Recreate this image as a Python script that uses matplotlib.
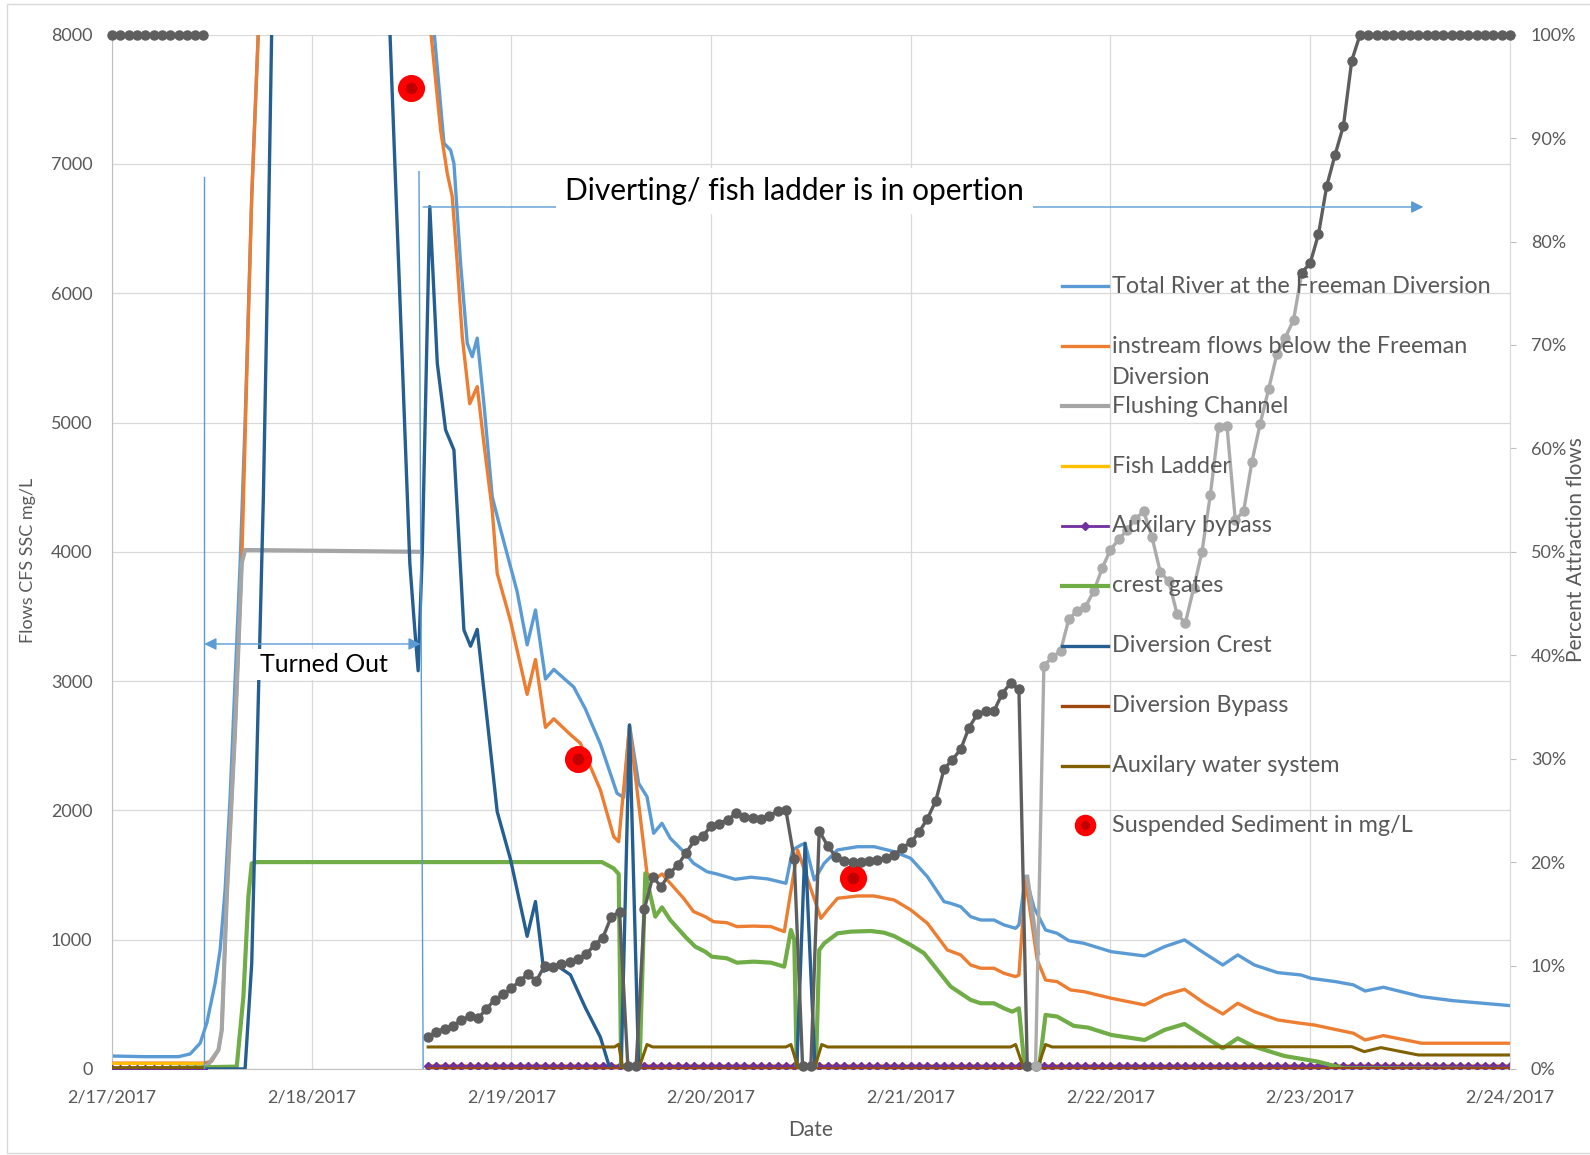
import numpy as np
import matplotlib.pyplot as plt
from matplotlib.lines import Line2D
from matplotlib.patches import Rectangle

plt.rcParams['font.family'] = ['Lato', 'DejaVu Sans']

nan = np.nan

# x values are hours since 2/17/2017 00:00
date_labels = ['2/17/2017', '2/18/2017', '2/19/2017', '2/20/2017',
               '2/21/2017', '2/22/2017', '2/23/2017', '2/24/2017']
early_hours = list(range(0, 12))
late_hours = list(range(38, 169))

# Total River at the Freeman Diversion (cfs)
river_hours = [0, 4, 8, 9.4, 10.6, 11.4, 12.4, 13, 13.6, 14.2, 14.8, 15.4, 16, 16.8,
               17.6, 18.4, 24, 32, 38.7, 39.9, 40.7, 41.1, 41.9, 42.7, 43.3, 43.9,
               44.7, 45.7, 46.7, 48.7, 49.9, 50.9, 52.1, 53.1, 55.5, 56.9, 58.7, 60.7,
               61.5, 62.2, 63.3, 64.3, 65.1, 66.1, 67.1, 68.7, 69.9, 71.5, 72.7, 74.9,
               76.8, 78.8, 81, 81.8, 82.8, 83.3, 84.4, 85.6, 87.2, 89.6, 91.6, 94, 96,
               98, 100, 100.8, 102, 103.2, 104.4, 106, 107.2, 108.6, 109, 109.8, 110.8,
               112.2, 113.6, 115, 116.8, 120.1, 124.1, 126.5, 128.9, 131.3, 133.5,
               135.3, 137.3, 140.1, 142.9, 144.1, 147.1, 149.2, 150.6, 152.8, 157.4,
               161.2, 168]
river_cfs = [100, 95, 95, 116, 199, 355, 663, 920, 1384, 2100, 3000, 3900, 5000, 6747,
             8035, 9500, 12000, 12000, 8035, 7160, 7107, 7004, 6231, 5613, 5509, 5653,
             5148, 4426, 4174, 3691, 3280, 3550, 3016, 3090, 2954, 2784, 2514, 2132,
             2100, 2660, 2209, 2106, 1823, 1900, 1784, 1681, 1591, 1526, 1508, 1467,
             1483, 1470, 1436, 1694, 1732, 1745, 1462, 1591, 1694, 1719, 1719, 1681, 1629,
             1487, 1294, 1281, 1255, 1178, 1152, 1152, 1114, 1088, 1114, 1490, 1250,
             1075, 1049, 992, 972, 907, 874, 946, 998, 895, 804,
             882, 804, 745, 727, 701, 675, 650, 603, 632, 559,
             528, 490]

# instream flows below the Freeman Diversion (cfs)
instream_hours = [0, 11, 12, 12.8, 13.2, 13.8, 14.8, 15.6, 16.2, 16.8, 17.6, 18.4, 24, 32,
                  38.3, 39.5, 40.3, 40.9, 41.5, 42.1, 43.0, 43.9, 44.7, 45.7, 46.3, 47.9,
                  49.9, 50.9, 52.1, 53.1, 55.1, 56.3, 58.7, 60.3, 60.9, 62.2, 64.3, 65.1,
                  66.1, 67.1, 68.7, 69.9, 71.3, 72.3, 73.9, 75.1, 77.1, 79.2, 80.8, 82.4,
                  85.2, 86, 87.2, 89.6, 91.6, 94, 96, 98, 100.4, 102, 103.2, 104.4, 106,
                  107.2, 108.6, 109, 109.8, 111.2, 112.2, 113.6, 115.2, 116.8, 120.1,
                  124.1, 126.5, 128.9, 131.3, 133.5, 135.3, 137.3, 140.1, 142.9, 144.5,
                  149.2, 150.6, 152.8, 157.4, 168]
instream_cfs = [45, 45, 60, 147, 302, 1333, 2622, 3913, 5355, 6747, 8035, 9500, 12000, 12000,
                8035, 7262, 6927, 6747, 6231, 5664, 5145, 5278, 4839, 4323, 3834, 3465,
                2897, 3167, 2642, 2708, 2586, 2519, 2158, 1797, 1758, 2647, 1513, 1462,
                1508, 1436, 1320, 1217, 1178, 1139, 1131, 1101, 1105, 1101, 1062, 1694,
                1165, 1230, 1320, 1338, 1338, 1307, 1230, 1127, 920, 882, 804, 779, 779,
                740, 714, 727, 1462, 843, 688, 675, 611, 598, 547,
                495, 572, 616, 508, 425, 508, 443, 379, 353, 340,
                276, 224, 258, 199, 199]

# Flushing Channel (cfs)
flushing_hours = [11, 11.4, 12.8, 13.2, 13.8, 14.8, 15.6, 16.0, 37.1, nan, 110.0, 111.3]
flushing_cfs = [0, 18, 147, 302, 1333, 2622, 3913, 4014, 4000, nan, 1487, 895]

# Fish Ladder, Auxilary bypass, Diversion Bypass (cfs), hourly
fish_ladder_cfs = [45] * 12 + [30] * 131
aux_bypass_cfs = [0] * 12 + [25] * 131
div_bypass_cfs = [5] * 12 + [10] * 131

# crest gates (cfs)
crest_hours = [0, 15, 15.8, 16.4, 16.8, 17.4, 58.9, 60.3, 60.9, 61.2, 63.4, 64.1, 65.3,
               66.1, 67.1, 68.9, 70.1, 71.3, 72.1, 73.9, 75.1, 77.1, 79.2, 80.8, 81.6, 82,
               82.3, 84.6, 85, 85.6, 87.2, 88.8, 91.2, 92.8, 94, 96, 97.6, 99.2, 100.8,
               103.2, 104.4, 106, 107.2, 108.2, 109, 109.7, 111.4, 112.2, 113.6, 115.6,
               117.3, 120.1, 124.1, 126.5, 128.9, 131.3, 133.5, 135.3, 137.3, 140.9,
               144.9, 148, 168]
crest_cfs = [0, 18, 560, 1333, 1590, 1600, 1600, 1551, 1508, 0, 0, 1513, 1178,
             1250, 1152, 1023, 946, 907, 868, 856, 822, 830, 822, 791, 1075, 998,
             0, 0, 920, 972, 1049, 1062, 1067, 1054, 1028, 959, 895, 766, 637,
             534, 508, 508, 469, 443, 469, 0, 0, 418, 405, 333,
             320, 263, 224, 302, 348, 250, 160, 237, 172, 100,
             57, 5, 0]

# Diversion Crest (cfs)
div_crest_hours = [0, 16, 16.8, 17.4, 18.2, 18.8, 19.2, 20, 32, 33.4, 34.6, 35.8, 36.4,
                   36.8, 37.3, 38.2, 39.1, 40.1, 41.1, 42.3, 43.1, 43.9, 45.1, 46.3, 47.9,
                   49.9, 50.9, 51.9, 53.5, 55.1, 56.9, 58.7, 59.7, 60, 61.2, 62.2, 63.3,
                   82.3, 83.3, 84.5, 168]
div_crest_cfs = [0, 0, 817, 2364, 4426, 6489, 8035, 10000, 10000, 8035, 5973, 3911, 3395,
                 3080, 4000, 6669, 5458, 4942, 4788, 3395, 3270, 3400, 2699, 1990, 1621,
                 1026, 1295, 756, 799, 728, 473, 246, 33, 0, 0, 2660, 0,
                 0, 1745, 0, 0]

# Auxilary water system (cfs)
aux_water_hours = [0, 11, nan, 38, 60.4, 60.9, 61.4, 63.3, 64.3, 65, 81, 81.6, 82.5, 84.4,
                   85.3, 86, 108, 108.6, 109.6, 111.2, 112.2, 113, 149, 150.5, 152.5, 157,
                   168]
aux_water_cfs = [10, 10, nan, 170, 170, 191, 0, 0, 189, 170, 170, 189, 0, 0,
                 189, 170, 170, 189, 0, 0, 189, 170, 172, 134, 165, 108,
                 108]

# Suspended Sediment in mg/L
sed_hours = [36, 56, 89]
sed_mg = [7590, 2400, 1475]

# Percent attraction flows (right axis), hourly
pct_a_hours = list(range(0, 12))
pct_a = [100] * 12
pct_b_hours = list(range(38, 112))
pct_b = [3.1, 3.6, 3.9, 4.2, 4.7, 5.1, 4.9, 5.8, 6.7, 7.2,
         7.8, 8.5, 9.2, 8.5, 10.0, 9.9, 10.1, 10.3, 10.6, 11.1,
         12.0, 12.7, 14.7, 15.2, 0.3, 0.3, 15.5, 18.6, 17.6, 18.9,
         19.7, 20.9, 22.1, 22.5, 23.5, 23.7, 24.1, 24.7, 24.4, 24.3,
         24.2, 24.5, 24.9, 25.0, 20.3, 0.3, 0.3, 23.0, 21.6, 20.5,
         20.1, 20.0, 20.0, 20.1, 20.2, 20.4, 20.7, 21.4, 21.9, 22.9,
         24.2, 25.9, 29.0, 29.9, 30.9, 33.0, 34.3, 34.6, 34.6, 36.3,
         37.3, 36.7, 0.3, 0.3]
pct_c_hours = list(range(111, 144))
pct_c = [0.3, 39.0, 39.8, 40.4, 43.5, 44.3, 44.7, 46.2, 48.4, 50.2,
         51.2, 52.1, 53.2, 53.9, 51.4, 48.0, 47.2, 44.0, 43.1, 46.5,
         50.0, 55.5, 62.1, 62.2, 53.1, 53.9, 58.7, 62.4, 65.7, 69.1,
         70.7, 72.4, 77.0]
pct_d_hours = list(range(143, 169))
pct_d = [77.0, 77.9, 80.7, 85.4, 88.4, 91.2, 97.5] + [100] * 19

# Colours
c_river = '#5B9BD5'
c_instream = '#ED7D31'
c_flush = '#A5A5A5'
c_fish = '#FFC000'
c_auxbyp = '#7030A0'
c_crest = '#70AD47'
c_divcrest = '#255E91'
c_divbyp = '#9E480E'
c_auxwater = '#806000'
c_pct_dark = '#5E5E5E'
c_pct_light = '#ABABAB'
text_gray = '#595959'

fig = plt.figure(figsize=(15.9, 11.55), dpi=100)
ax = fig.add_axes([0.0704, 0.0745, 0.8792, 0.8955])
ax2 = ax.twinx()

hourly = early_hours + [nan] + late_hours


def with_gap(vals):
    return vals[:12] + [nan] + vals[12:]


ax.plot(river_hours, river_cfs, color=c_river, lw=2.4, zorder=2)
ax.plot(instream_hours, instream_cfs, color=c_instream, lw=2.4, zorder=3)
ax.plot(flushing_hours, flushing_cfs, color=c_flush, lw=3.0, zorder=4)
ax.plot(hourly, with_gap(fish_ladder_cfs), color=c_fish, lw=2.0, zorder=5)
ax.plot(hourly, with_gap(aux_bypass_cfs), color=c_auxbyp, lw=1.6, marker='D', ms=4.5,
        zorder=6)
ax.plot(crest_hours, crest_cfs, color=c_crest, lw=3.0, zorder=7)
ax.plot(div_crest_hours, div_crest_cfs, color=c_divcrest, lw=2.4, zorder=8)
ax.plot(hourly, with_gap(div_bypass_cfs), color=c_divbyp, lw=2.0, zorder=9)
ax.plot(aux_water_hours, aux_water_cfs, color=c_auxwater, lw=2.2, zorder=10)
ax.plot(sed_hours, sed_mg, ls='none', marker='o', ms=14, mfc='#C00000', mec='#FF0000',
        mew=5.5, zorder=11)

for hrs, vals, col in [(pct_a_hours, pct_a, c_pct_dark), (pct_b_hours, pct_b, c_pct_dark),
                       (pct_c_hours, pct_c, c_pct_light), (pct_d_hours, pct_d, c_pct_dark)]:
    ax2.plot(hrs, vals, color=col, lw=2.4, marker='o', ms=6.5, mfc=col, mec=col, zorder=3,
             clip_on=False)

# Axes, ticks and grid
ax.set_xlim(0, 168)
ax.set_ylim(0, 8000)
ax2.set_ylim(0, 100)
ax.set_xticks(range(0, 169, 24))
ax.set_xticklabels(date_labels)
ax.set_yticks(range(0, 8001, 1000))
ax2.set_yticks(range(0, 101, 10))
ax2.set_yticklabels([f'{v}%' for v in range(0, 101, 10)])
ax.grid(True, color='#D9D9D9', lw=0.9)
ax.set_axisbelow(True)
ax.tick_params(axis='x', length=0, pad=15, labelsize=13, labelcolor=text_gray)
ax.tick_params(axis='y', length=0, pad=14, labelsize=13, labelcolor=text_gray)
ax2.tick_params(axis='y', length=4, color='#BFBFBF', pad=11, labelsize=13,
                labelcolor=text_gray)
for name, sp in ax.spines.items():
    sp.set_visible(name in ('left', 'bottom'))
    sp.set_color('#BFBFBF')
for name, sp in ax2.spines.items():
    sp.set_visible(name == 'right')
    sp.set_color('#D9D9D9')

ax.set_xlabel('Date', fontsize=15, color=text_gray, labelpad=10)
fig.text(28 / 1590, 1 - 560 / 1155, 'Flows CFS SSC mg/L', rotation=90, fontsize=13,
         color=text_gray, ha='center', va='center')
fig.text(1576 / 1590, 1 - 550 / 1155, 'Percent Attraction flows', rotation=90,
         fontsize=15, color=text_gray, ha='center', va='center')

# Turned-out / diverting markers drawn on top of the series
blue_thin = dict(color=c_river, lw=1.0, zorder=20, transform=ax.transData)
ax2.plot([11.1, 11.1], [0, 6900], **blue_thin)
ax2.plot([36.9, 37.4], [6940, 0], **blue_thin)
ax2.annotate('', xy=(11.1, 3287), xytext=(37.1, 3287), xycoords=ax.transData,
             textcoords=ax.transData, zorder=20,
             arrowprops=dict(arrowstyle='<|-|>', color=c_river, lw=1.0,
                             mutation_scale=18, shrinkA=0, shrinkB=0))
ax2.annotate('', xy=(157.6, 6667), xytext=(37.4, 6667), xycoords=ax.transData,
             textcoords=ax.transData, zorder=20,
             arrowprops=dict(arrowstyle='-|>', color=c_river, lw=1.0,
                             mutation_scale=18, shrinkA=0, shrinkB=0))
ax2.text(17.8, 3130, 'Turned Out', transform=ax.transData, fontsize=18, color='black',
         ha='left', va='center', zorder=21,
         bbox=dict(boxstyle='square,pad=0.15', fc='white', ec='none'))
ax2.text(54.5, 6790, 'Diverting/ fish ladder is in opertion', transform=ax.transData,
         fontsize=21.5, color='black', ha='left', va='center', zorder=21,
         bbox=dict(boxstyle='square,pad=0.3', fc='white', ec='none'))

# Legend
legend_items = [
    ('Total River at the Freeman Diversion', dict(color=c_river, lw=2.4)),
    ('instream flows below the Freeman', dict(color=c_instream, lw=2.4)),
    ('Flushing Channel', dict(color=c_flush, lw=3.0)),
    ('Fish Ladder', dict(color=c_fish, lw=2.4)),
    ('Auxilary bypass', dict(color=c_auxbyp, lw=2.0, marker='D', ms=4.5,
                             markevery=[1])),
    ('crest gates', dict(color=c_crest, lw=3.0)),
    ('Diversion Crest', dict(color=c_divcrest, lw=2.4)),
    ('Diversion Bypass', dict(color=c_divbyp, lw=2.4)),
    ('Auxilary water system', dict(color=c_auxwater, lw=2.4)),
]
fx = lambda px: px / 1590
fy = lambda py: 1 - py / 1155
row_step = 59.9
legend_size = 16.8
for i, (label, style) in enumerate(legend_items):
    y = 286.3 + row_step * i
    fig.add_artist(Line2D([fx(1061.7), fx(1085), fx(1108.3)], [fy(y)] * 3,
                          transform=fig.transFigure, zorder=30, **style))
    fig.text(fx(1112), fy(y), label, fontsize=legend_size, color=text_gray, ha='left',
             va='center', zorder=31)
    if i == 1:
        fig.text(fx(1112), fy(y + 31.5), 'Diversion', fontsize=legend_size,
                 color=text_gray, ha='left', va='center', zorder=31)
y_sed = 286.3 + row_step * 9
fig.add_artist(Line2D([fx(1085)], [fy(y_sed)], transform=fig.transFigure, ls='none',
                      marker='o', ms=11, mfc='#C00000', mec='#FF0000', mew=4.5, zorder=30))
fig.text(fx(1112), fy(y_sed), 'Suspended Sediment in mg/L', fontsize=legend_size,
         color=text_gray, ha='left', va='center', zorder=31)

# Chart border
fig.add_artist(Rectangle((7 / 1590, 2 / 1155), 1.0, 1 - 6 / 1155, transform=fig.transFigure,
                         fill=False, ec='#D9D9D9', lw=1.0))

plt.savefig('out.png', dpi=100)
